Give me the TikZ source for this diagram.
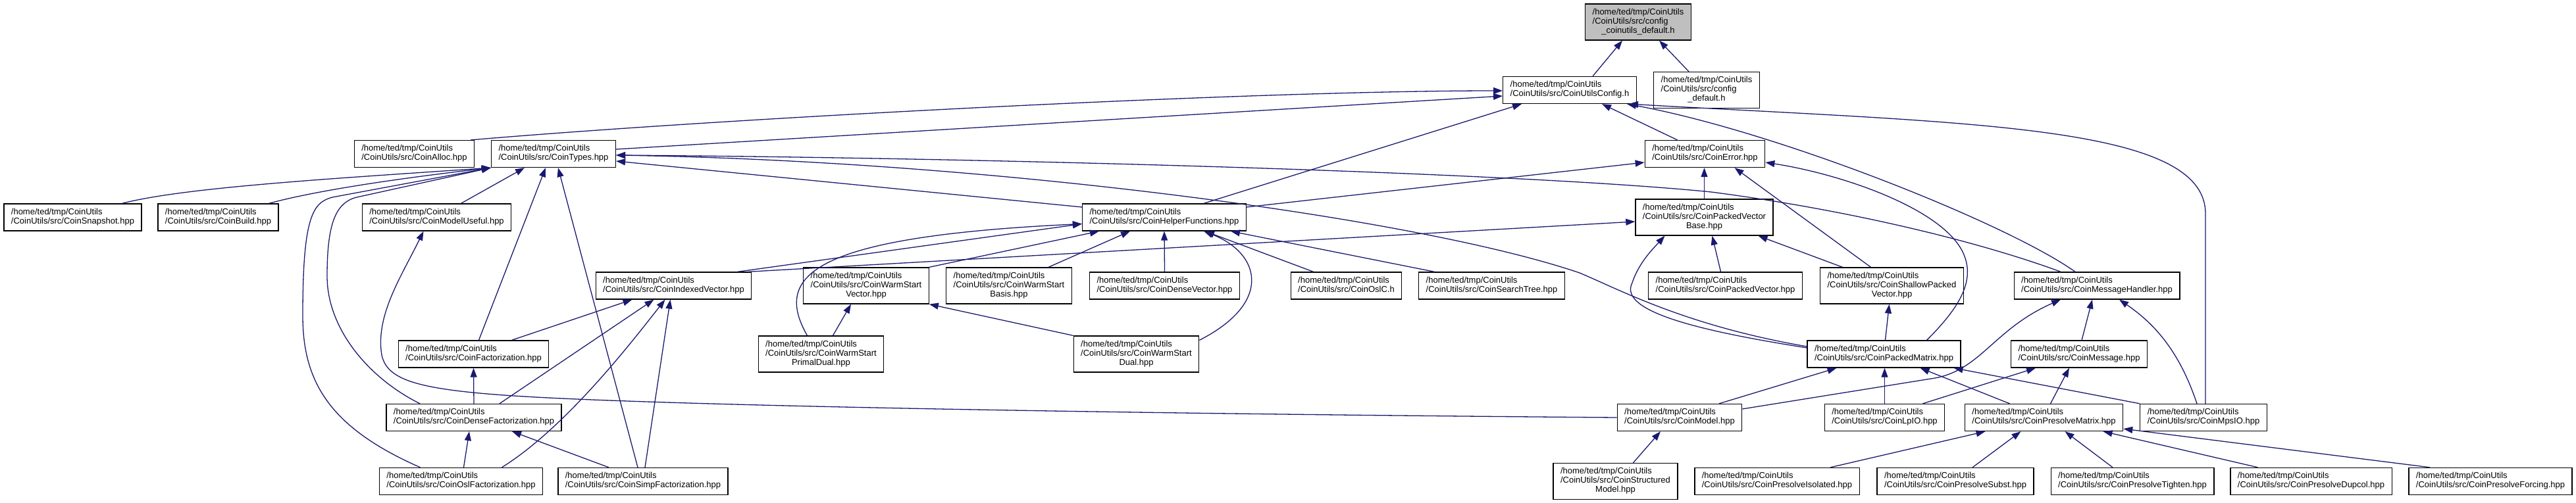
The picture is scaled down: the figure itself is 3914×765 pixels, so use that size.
\documentclass[tikz,border=0pt]{standalone}
\usepackage{fontspec}
\setmainfont{Liberation Sans}
\usetikzlibrary{arrows, arrows.meta}
\definecolor{edgeblue}{RGB}{25,25,112}
\definecolor{topgray}{RGB}{191,191,191}
\newcommand{\incfile}[1]{\begin{tabular}{@{}l@{}}/home/ted/tmp/CoinUtils\\/CoinUtils/src/#1\end{tabular}}
\newcommand{\incfilec}[2]{\begin{tabular}{@{}l@{}}/home/ted/tmp/CoinUtils\\/CoinUtils/src/#1\\\multicolumn{1}{@{}c@{}}{#2}\end{tabular}}
\tikzstyle{file} = [rectangle, draw=black, line width=1.3pt, fill=white, inner xsep=11pt, inner ysep=6.5pt, font=\fontsize{13}{14}\selectfont]
\tikzstyle{current} = [file, fill=topgray]
\tikzstyle{arrow} = [line width=1.3pt, draw=edgeblue, -{Triangle[length=14pt,width=10pt]}]

\begin{document}
\begin{tikzpicture}[x=1pt, y=-1pt]
    \useasboundingbox (0,0) rectangle (3914,765);
        \node[current] (default) at (2489,33.5) {\incfilec{config}{\_coinutils\_default.h}};
        \node[file] (config) at (2385,137) {\incfile{CoinUtilsConfig.h}};
        \node[file] (configdef) at (2593,137) {\incfilec{config}{\_default.h}};
        \node[file] (alloc) at (629.5,234) {\incfile{CoinAlloc.hpp}};
        \node[file] (types) at (841,234) {\incfile{CoinTypes.hpp}};
        \node[file] (error) at (2590.5,234) {\incfile{CoinError.hpp}};
        \node[file] (snapshot) at (110.5,330.5) {\incfile{CoinSnapshot.hpp}};
        \node[file] (build) at (331.5,330.5) {\incfile{CoinBuild.hpp}};
        \node[file] (modeluseful) at (663.5,330.5) {\incfile{CoinModelUseful.hpp}};
        \node[file] (helper) at (1769,330.5) {\incfile{CoinHelperFunctions.hpp}};
        \node[file] (vecbase) at (2589.5,330.5) {\incfilec{CoinPackedVector}{Base.hpp}};
        \node[file] (indexed) at (1023.5,434.5) {\incfile{CoinIndexedVector.hpp}};
        \node[file] (wsvector) at (1316,434.5) {\incfilec{CoinWarmStart}{Vector.hpp}};
        \node[file] (wsbasis) at (1533,434.5) {\incfilec{CoinWarmStart}{Basis.hpp}};
        \node[file] (densevec) at (1769.5,434.5) {\incfile{CoinDenseVector.hpp}};
        \node[file] (oslc) at (2045.5,434.5) {\incfile{CoinOslC.h}};
        \node[file] (searchtree) at (2266.5,434.5) {\incfile{CoinSearchTree.hpp}};
        \node[file] (packedvec) at (2621.5,434.5) {\incfile{CoinPackedVector.hpp}};
        \node[file] (shallow) at (2874.5,434.5) {\incfilec{CoinShallowPacked}{Vector.hpp}};
        \node[file] (handler) at (3186,434.5) {\incfile{CoinMessageHandler.hpp}};
        \node[file] (factor) at (719.5,538.5) {\incfile{CoinFactorization.hpp}};
        \node[file] (wsprimaldual) at (1247.5,538.5) {\incfilec{CoinWarmStart}{PrimalDual.hpp}};
        \node[file] (wsdual) at (1726.5,538.5) {\incfilec{CoinWarmStart}{Dual.hpp}};
        \node[file] (matrix) at (2862.5,538.5) {\incfile{CoinPackedMatrix.hpp}};
        \node[file] (message) at (3159,538.5) {\incfile{CoinMessage.hpp}};
        \node[file] (densefactor) at (720,635) {\incfile{CoinDenseFactorization.hpp}};
        \node[file] (model) at (2552,635) {\incfile{CoinModel.hpp}};
        \node[file] (lpio) at (2863.5,635) {\incfile{CoinLpIO.hpp}};
        \node[file] (presolve) at (3105.5,635) {\incfile{CoinPresolveMatrix.hpp}};
        \node[file] (mpsio) at (3348,635) {\incfile{CoinMpsIO.hpp}};
        \node[file] (oslfactor) at (700.5,732) {\incfile{CoinOslFactorization.hpp}};
        \node[file] (simpfactor) at (977,732) {\incfile{CoinSimpFactorization.hpp}};
        \node[file] (structured) at (2454.5,732) {\incfilec{CoinStructured}{Model.hpp}};
        \node[file] (isolated) at (2700,732) {\incfile{CoinPresolveIsolated.hpp}};
        \node[file] (subst) at (2971,732) {\incfile{CoinPresolveSubst.hpp}};
        \node[file] (tighten) at (3240,732) {\incfile{CoinPresolveTighten.hpp}};
        \node[file] (dupcol) at (3511.5,732) {\incfile{CoinPresolveDupcol.hpp}};
        \node[file] (forcing) at (3784,732) {\incfile{CoinPresolveForcing.hpp}};
        \draw[arrow] ([xshift=35pt]config.north) -- ([xshift=-24pt]default.south);
        \draw[arrow] ([xshift=-27pt]configdef.north) -- ([xshift=32pt]default.south);
        \draw[arrow] ([xshift=-6pt]alloc.north east) .. controls (1100,180) and (1900,138) .. ([yshift=-1pt]config.west);
        \draw[arrow] ([yshift=7pt]types.east) -- ([yshift=-9pt]config.west);
        \draw[arrow] ([xshift=60pt]helper.north) -- ([xshift=-73pt]config.south);
        \draw[arrow] ([xshift=-42pt]error.north) -- ([xshift=49pt]config.south);
        \draw[arrow] ([xshift=-33pt]handler.north) .. controls (3050,340) and (2700,200) .. ([xshift=87pt]config.south);
        \draw[arrow] ([xshift=3pt]mpsio.north) -- (3351,325) .. controls (3351,190) and (3000,188) .. ([xshift=90pt]config.south);
        \draw[arrow] ([xshift=-55pt]handler.north) .. controls (3000,365) and (2800,318) .. (2600,292) .. controls (2300,262) and (1500,240) .. ([yshift=-2pt]types.east);
        \draw[arrow] ([yshift=11.5pt]matrix.west) .. controls (2560,495) and (2460,440) .. (2400,415) .. controls (2150,330) and (1500,245) .. ([yshift=-2pt]types.east);
        \draw[arrow] ([yshift=15.5pt]helper.west) -- ([yshift=-11pt]types.east);
        \draw[arrow] ([yshift=9.5pt]matrix.west) .. controls (2560,500) and (2460,470) .. (2480,430) .. controls (2490,400) and (2510,380) .. ([xshift=-60pt]vecbase.south);
        \draw[arrow] ([xshift=113pt]indexed.north) -- ([yshift=-6.5pt]vecbase.west);
        \draw[arrow] ([xshift=97pt]indexed.north) -- ([yshift=-10pt]helper.west);
        \draw[arrow] ([xshift=-21pt]wsprimaldual.north) .. controls (1175,420) and (1230,360) .. ([yshift=-10pt]helper.west);
        \draw[arrow] (wsvector.north east) -- ([xshift=-99pt]helper.south);
        \draw[arrow] ([xshift=60pt]wsbasis.north) -- ([xshift=-52pt]helper.south);
        \draw[arrow] (densevec.north) -- (helper.south);
        \draw[arrow] ([yshift=-7pt]wsdual.north east) .. controls (1935,460) and (1915,385) .. ([xshift=60pt]helper.south);
        \draw[arrow] ([xshift=-50pt]oslc.north) -- ([xshift=62pt]helper.south);
        \draw[arrow] ([xshift=-87pt]searchtree.north) -- ([xshift=101pt]helper.south);
        \draw[arrow] ([yshift=15.5pt]helper.east) -- ([yshift=-13pt]error.west);
        \draw[arrow] (vecbase.north) -- ([xshift=-1pt]error.south);
        \draw[arrow] ([xshift=-32pt]shallow.north) -- ([xshift=45pt]error.south);
        \draw[arrow] ([xshift=65pt]matrix.north) .. controls (2975,470) and (3000,430) .. (2985,390) .. controls (2960,320) and (2800,265) .. ([yshift=-13pt]error.east);
        \draw[arrow] ([xshift=-7pt]packedvec.north) -- ([xshift=12pt]vecbase.south);
        \draw[arrow] ([xshift=-75pt]shallow.north) -- ([xshift=82pt]vecbase.south);
        \draw[arrow] ([xshift=2pt]matrix.north) -- ([xshift=-4pt]shallow.south);
        \draw[arrow] ([xshift=60pt]model.north) -- ([xshift=-72pt]matrix.south);
        \draw[arrow] (lpio.north) -- ([xshift=1pt]matrix.south);
        \draw[arrow] ([xshift=-52pt]presolve.north) -- ([xshift=55pt]matrix.south);
        \draw[arrow] (mpsio.north west) -- ([xshift=106pt]matrix.south);
        \draw[arrow] ([yshift=13pt]model.east) -- (2940,575) .. controls (3010,562) and (3030,500) .. ([xshift=-55pt]handler.south);
        \draw[arrow] ([xshift=58pt]lpio.north) -- ([xshift=-66pt]message.south);
        \draw[arrow] ([xshift=10pt]presolve.north) -- ([xshift=-15pt]message.south);
        \draw[arrow] ([xshift=4pt]message.north) -- ([xshift=-7pt]handler.south);
        \draw[arrow] ([xshift=-10pt]mpsio.north) .. controls (3310,530) and (3270,490) .. ([xshift=34pt]handler.south);
        \draw[arrow] ([xshift=81pt]isolated.north) -- ([xshift=-89pt]presolve.south);
        \draw[arrow] ([xshift=26pt]subst.north) -- ([xshift=-35pt]presolve.south);
        \draw[arrow] ([xshift=-30pt]tighten.north) -- ([xshift=32pt]presolve.south);
        \draw[arrow] ([xshift=-81pt]dupcol.north) -- ([xshift=90pt]presolve.south);
        \draw[arrow] ([xshift=-92pt]forcing.north) -- ([yshift=4pt]presolve.south east);
        \draw[arrow] ([xshift=27pt]structured.north) -- ([xshift=-29pt]model.south);
        \draw[arrow] (model.west) .. controls (1800,630) and (1200,620) .. (900,608) .. controls (650,598) and (590,585) .. (580,540) .. controls (570,480) and (610,420) .. ([xshift=-20pt]modeluseful.south);
        \draw[arrow] ([xshift=-62pt]oslfactor.north) .. controls (500,650) and (460,580) .. (460,480) .. controls (460,330) and (475,308) .. (505,300) -- (types.south west);
        \draw[arrow] ([xshift=-82pt]densefactor.north) .. controls (560,575) and (497,500) .. (497,420) .. controls (497,340) and (510,308) .. (542,300) -- (types.south west);
        \draw[arrow] ([xshift=75pt]snapshot.north) .. controls (280,285) and (500,272) .. (types.south west);
        \draw[arrow] ([xshift=77pt]build.north) .. controls (480,290) and (600,272) .. (types.south west);
        \draw[arrow] ([xshift=37pt]modeluseful.north) -- ([xshift=-44pt]types.south);
        \draw[arrow] ([xshift=8pt]factor.north) -- ([xshift=-12pt]types.south);
        \draw[arrow] ([xshift=-8pt]simpfactor.north) -- ([xshift=7pt]types.south);
        \draw[arrow] ([xshift=58pt]factor.north) -- ([xshift=-63pt]indexed.south);
        \draw[arrow] (densefactor.north) -- (factor.south);
        \draw[arrow] ([xshift=39pt]densefactor.north) -- ([xshift=-30pt]indexed.south);
        \draw[arrow] ([xshift=62pt]oslfactor.north) .. controls (860,650) and (960,520) .. ([xshift=-13pt]indexed.south);
        \draw[arrow] ([xshift=3pt]simpfactor.north) -- ([xshift=-5pt]indexed.south);
        \draw[arrow] ([xshift=4pt]oslfactor.north) -- ([xshift=-7pt]densefactor.south);
        \draw[arrow] ([xshift=-52pt]simpfactor.north) -- ([xshift=58pt]densefactor.south);
        \draw[arrow] ([xshift=18pt]wsprimaldual.north) -- ([xshift=-23pt]wsvector.south);
        \draw[arrow] (wsdual.north west) -- (wsvector.south east);
    \end{tikzpicture}
\end{document}
